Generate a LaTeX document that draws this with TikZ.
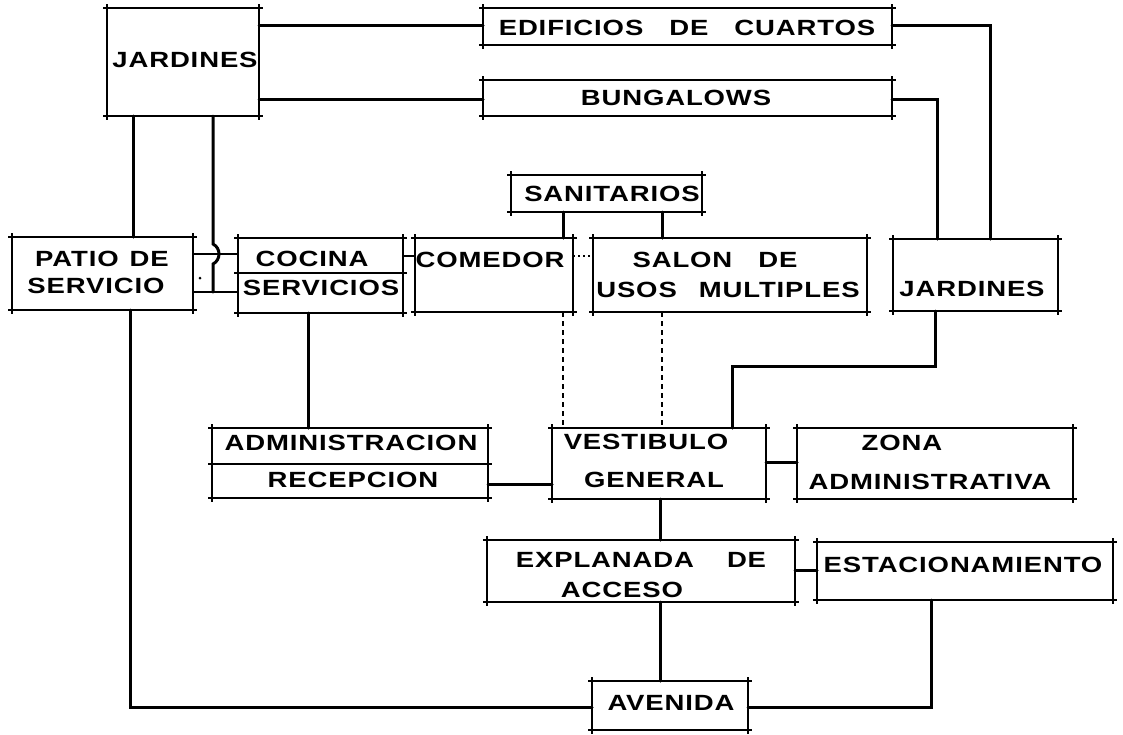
\documentclass[tikz,border=0pt]{standalone}
\usepackage{fontspec}
\newfontfamily\lett{Liberation Sans}[FakeStretch=1.25,LetterSpace=4]
\begin{document}
\begin{tikzpicture}[x=1pt,y=-1pt,
  boxnode/.style={rectangle,inner sep=0,outer sep=0},
  frame/.style={line width=1.2pt,shorten <=-4pt,shorten >=-4pt},
  conn/.style={line width=3pt,line cap=round,line join=miter},
  thinconn/.style={line width=2.2pt},
  dashconn/.style={line width=1.5pt,dash pattern=on 5pt off 4pt},
  dotconn/.style={line width=1.5pt,dash pattern=on 2pt off 3pt},
  lbl/.style={inner sep=0,font=\lett\bfseries\fontsize{22}{26}\selectfont}]
\useasboundingbox (0,0) rectangle (1123,734);
\newcommand\xbox[5]{%
  \node[boxnode,minimum width={#4pt-#2pt},minimum height={#5pt-#3pt}] (#1) at ({(#2+#4)/2},{(#3+#5)/2}) {};
  \draw[frame] (#1.north west)--(#1.north east);
  \draw[frame] (#1.south west)--(#1.south east);
  \draw[frame] (#1.north west)--(#1.south west);
  \draw[frame] (#1.north east)--(#1.south east);}
% boxes
\xbox{jardA}{107}{8}{259}{116}
\xbox{edif}{483}{8}{892}{45}
\xbox{bung}{483}{80}{892}{116}
\xbox{sanit}{511}{175}{702}{212}
\xbox{patio}{12}{237}{193}{310}
\xbox{cocina}{238}{238}{403}{313}
\xbox{comedor}{415}{238}{573}{312}
\xbox{salon}{593}{238}{867}{312}
\xbox{jardB}{893}{239}{1058}{311}
\xbox{admin}{212}{428}{488}{498}
\xbox{vest}{552}{428}{766}{499}
\xbox{zona}{797}{428}{1073}{499}
\xbox{expl}{487}{540}{795}{602}
\xbox{estac}{817}{542}{1113}{600}
\xbox{aven}{592}{681}{748}{730}
% dividers
\coordinate (cocdivL) at (238,273); \coordinate (cocdivR) at (403,273);
\draw[frame] (cocdivL) -- (cocdivR);
\coordinate (admdivL) at (212,464); \coordinate (admdivR) at (488,464);
\draw[frame] (admdivL) -- (admdivR);
% labels
\node[lbl] (tJA) at (185,60) {JARDINES};
\node[lbl] (tED) at (687,28) {EDIFICIOS\hspace{26pt}DE\hspace{26pt}CUARTOS};
\node[lbl] (tBU) at (676,98) {BUNGALOWS};
\node[lbl] (tSA) at (612,194) {SANITARIOS};
\node[lbl] (tPA1) at (102,259) {PATIO\hspace{11pt}DE};
\node[lbl] (tPA2) at (96,286) {SERVICIO};
\node[lbl] (tCO1) at (312,259) {COCINA};
\node[lbl] (tCO2) at (321,288) {SERVICIOS};
\node[lbl] (tCM) at (490,260) {COMEDOR};
\node[lbl] (tSL1) at (715,260) {SALON\hspace{26pt}DE};
\node[lbl] (tSL2) at (728,290) {USOS\hspace{22pt}MULTIPLES};
\node[lbl] (tJB) at (972,289) {JARDINES};
\node[lbl] (tAD) at (351,443) {ADMINISTRACION};
\node[lbl] (tRE) at (353,480) {RECEPCION};
\node[lbl] (tVE1) at (646,442) {VESTIBULO};
\node[lbl] (tVE2) at (654,480) {GENERAL};
\node[lbl] (tZO1) at (902,443) {ZONA};
\node[lbl] (tZO2) at (930,482) {ADMINISTRATIVA};
\node[lbl] (tEX1) at (641,560) {EXPLANADA\hspace{33pt}DE};
\node[lbl] (tEX2) at (622,590) {ACCESO};
\node[lbl] (tES) at (963,565) {ESTACIONAMIENTO};
\node[lbl] (tAV) at (671,703) {AVENIDA};
% connectors
\draw[conn] (jardA.east |- 0,25) -- (edif.west |- 0,25);
\draw[conn] (edif.east |- 0,25) -| (990,0 |- jardB.north);
\draw[conn] (jardA.east |- 0,99) -- (bung.west |- 0,99);
\draw[conn] (bung.east |- 0,99) -| (937,0 |- jardB.north);
\draw[conn] (563,0 |- sanit.south) -- (563,0 |- comedor.north);
\draw[conn] (662,0 |- sanit.south) -- (662,0 |- salon.north);
\draw[conn] (133,0 |- jardA.south) -- (133,0 |- patio.north);
\draw[conn] (213,0 |- jardA.south) -- (213,244) .. controls (221,248) and (221,260) .. (213,264) -- (213,292);
\draw[thinconn] (patio.east |- 0,254) -- (cocina.west |- 0,254);
\draw[thinconn] (patio.east |- 0,292) -- (cocina.west |- 0,292);
\fill (200,278) circle (1.5);
\draw[thinconn] (cocina.east |- 0,256) -- (comedor.west |- 0,256);
\draw[dotconn] (comedor.east |- 0,256) -- (salon.west |- 0,256);
\draw[conn] (130,0 |- patio.south) |- (aven.west |- 0,707);
\draw[conn] (308,0 |- cocina.south) -- (308,0 |- admin.north);
\draw[dashconn] (563,0 |- comedor.south) -- (563,0 |- vest.north);
\draw[dashconn] (662,0 |- salon.south) -- (662,0 |- vest.north);
\draw[conn] (935,0 |- jardB.south) |- (732,366) -- (732,0 |- vest.north);
\draw[conn] (admin.east |- 0,484) -- (vest.west |- 0,484);
\draw[conn] (vest.east |- 0,462) -- (zona.west |- 0,462);
\draw[conn] (660,0 |- vest.south) -- (660,0 |- expl.north);
\draw[conn] (expl.east |- 0,570) -- (estac.west |- 0,570);
\draw[conn] (660,0 |- expl.south) -- (660,0 |- aven.north);
\draw[conn] (931,0 |- estac.south) |- (aven.east |- 0,707);
\end{tikzpicture}
\end{document}
